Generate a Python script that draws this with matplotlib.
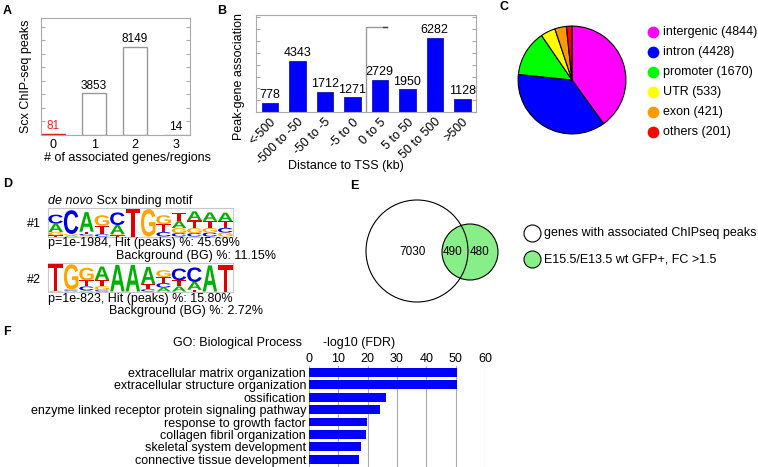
import matplotlib
matplotlib.use("Agg")
import matplotlib.pyplot as plt
from matplotlib.patches import Circle, Rectangle, PathPatch
from matplotlib.textpath import TextPath
from matplotlib.transforms import Affine2D
from matplotlib.font_manager import FontProperties
from matplotlib.ticker import MultipleLocator

plt.rcParams['font.family'] = ['Liberation Sans', 'DejaVu Sans']

# Panel A
n_assoc = ['0', '1', '2', '3']
n_peaks = [81, 3853, 8149, 14]

# Panel B
tss_bins = ['<-500', '-500 to -50', '-50 to -5', '-5 to 0',
            '0 to 5', '5 to 50', '50 to 500', '>500']
tss_counts = [778, 4343, 1712, 1271, 2729, 1950, 6282, 1128]

# Panel C
region_names = ['intergenic', 'intron', 'promoter', 'UTR', 'exon', 'others']
region_counts = [4844, 4428, 1670, 533, 421, 201]
region_colors = ['#ff00ff', '#0000ff', '#00ff00', '#ffff00', '#ff9900', '#ff0000']

# Panel D: motif letter heights (fraction of logo height) per position
motif1 = [
    {'C': .32, 'A': .30, 'G': .12, 'T': .04},
    {'C': .85, 'G': .05, 'A': .04},
    {'A': .70, 'T': .08, 'C': .05, 'G': .04},
    {'G': .38, 'T': .30, 'C': .08},
    {'C': .45, 'A': .32, 'G': .05, 'T': .04},
    {'T': .98},
    {'G': .98},
    {'G': .32, 'T': .28, 'C': .16},
    {'T': .30, 'A': .25, 'G': .18, 'C': .12},
    {'A': .32, 'T': .28, 'G': .18, 'C': .12},
    {'A': .30, 'T': .26, 'G': .16, 'C': .14},
    {'A': .30, 'T': .24, 'C': .17, 'G': .14},
]
motif2 = [
    {'T': .95, 'A': .03},
    {'G': .90, 'C': .04, 'A': .03},
    {'G': .45, 'T': .22, 'C': .14, 'A': .04},
    {'A': .48, 'T': .22, 'G': .14, 'C': .05},
    {'A': .95},
    {'A': .95},
    {'A': .62, 'T': .18, 'C': .08},
    {'G': .24, 'T': .22, 'C': .16, 'A': .14},
    {'C': .42, 'T': .22, 'A': .18},
    {'C': .52, 'A': .28, 'T': .06},
    {'A': .93},
    {'T': .93},
]
motif_hits = ['p=1e-1984, Hit (peaks) %: 45.69%', 'p=1e-823, Hit (peaks) %: 15.80%']
motif_bg = ['Background (BG) %: 11.15%', 'Background (BG) %: 2.72%']
base_colors = {'A': '#00b000', 'C': '#0000e0', 'G': '#ffa500', 'T': '#e00000'}

# Panel E
venn_counts = [7030, 490, 480]
venn_labels = ['genes with associated ChIPseq peaks', 'E15.5/E13.5 wt GFP+, FC >1.5']

# Panel F
go_terms = ['extracellular matrix organization', 'extracellular structure organization',
            'ossification', 'enzyme linked receptor protein signaling pathway',
            'response to growth factor', 'collagen fibril organization',
            'skeletal system development', 'connective tissue development']
go_fdr = [50.6, 50.5, 26.4, 24.2, 19.8, 19.5, 17.6, 17.0]

W, H = 758, 467
fig = plt.figure(figsize=(W / 100, H / 100), dpi=100)


def box(l, t, r, b):
    return [l / W, 1 - b / H, (r - l) / W, (b - t) / H]


# overlay in pixel coordinates for the free-drawn parts
ov = fig.add_axes([0, 0, 1, 1])
ov.set_xlim(0, W)
ov.set_ylim(H, 0)
ov.axis('off')

for lab, x, y in [('A', 3, 11), ('B', 217, 11), ('C', 499, 7),
                  ('D', 3, 184), ('E', 350, 186), ('F', 3, 332)]:
    ov.text(x, y, lab, fontsize=9, fontweight='bold', va='center')

# ---- A
axA = fig.add_axes(box(41, 18, 190, 135))
xa = range(len(n_peaks))
edgesA = ['#d02020', '#999999', '#999999', '#999999']
axA.bar(xa, n_peaks, width=0.6, color='white', edgecolor=edgesA, linewidth=1)
for i, v in enumerate(n_peaks):
    axA.text(i, v + 150, str(v), ha='center', va='bottom', fontsize=8.5,
             color='#ff2020' if i == 0 else 'black')
axA.set_xlim(-0.3, 3.35)
axA.set_ylim(0, 10800)
axA.set_xticks(list(xa))
axA.set_xticklabels(n_assoc, fontsize=9)
axA.yaxis.set_major_locator(MultipleLocator(1250))
axA.tick_params(axis='y', direction='in', left=True, right=True, labelleft=False,
                length=3, color='#aaaaaa')
axA.tick_params(axis='x', length=0, pad=3)
for s in axA.spines.values():
    s.set_color('#aaaaaa')
axA.set_ylabel('Scx ChIP-seq peaks', fontsize=9)
axA.yaxis.set_label_coords(-0.06, 0.5)
axA.set_xlabel('# of associated genes/regions', fontsize=9)
axA.xaxis.set_label_coords(0.58, -0.145)

# ---- B
axB = fig.add_axes(box(256, 15, 476, 112))
xb = range(len(tss_counts))
axB.bar(xb, tss_counts, width=0.6, color='#0000ff', edgecolor='#000099', linewidth=0.5)
for i, v in enumerate(tss_counts):
    axB.text(i, v + 120, str(v), ha='center', va='bottom', fontsize=9)
axB.set_xlim(-0.5, 7.5)
axB.set_ylim(0, 8200)
axB.set_xticks(list(xb))
axB.set_xticklabels(tss_bins, fontsize=9, rotation=45, ha='right', rotation_mode='anchor')
axB.yaxis.set_major_locator(MultipleLocator(1000))
axB.tick_params(axis='y', direction='in', left=True, right=True, labelleft=False,
                length=3, color='#aaaaaa')
axB.tick_params(axis='x', length=0, pad=3)
for s in axB.spines.values():
    s.set_color('#aaaaaa')
tss = 3.5
axB.plot([tss, tss, tss + 0.78], [0, 7200, 7200], color='#999999', lw=1)
axB.plot([tss + 0.6, tss + 0.78], [7200, 7200], color='#444444', lw=1)
axB.set_ylabel('Peak-gene association', fontsize=9)
axB.yaxis.set_label_coords(-0.05, 0.37)
axB.set_xlabel('Distance to TSS (kb)', fontsize=9)
axB.xaxis.set_label_coords(0.407, -0.49)

# ---- C
axC = fig.add_axes(box(517, 25, 627, 135))
axC.pie(region_counts, colors=region_colors, startangle=90, counterclock=False,
        wedgeprops=dict(edgecolor='black', linewidth=0.8))
axC.set_xlim(-1.02, 1.02)
axC.set_ylim(-1.02, 1.02)
for i, (nm, c) in enumerate(zip(region_names, region_colors)):
    y = 32 + 20 * i
    ov.scatter([653], [y], s=55, color=c, zorder=3)
    ov.text(663, y, f'{nm} ({region_counts[i]})', fontsize=9, va='center')

# ---- D
fp = FontProperties(family='Liberation Sans', weight='bold')


def draw_logo(cols, x0, top, x1, bottom):
    ov.add_patch(Rectangle((x0, top), x1 - x0, bottom - top, fill=False,
                           edgecolor='#c8c8c8', lw=0.8))
    cw = (x1 - x0) / len(cols)
    hgt = bottom - top - 1
    for i, col in enumerate(cols):
        yb = bottom - 0.5
        for ch, h in sorted(col.items(), key=lambda kv: kv[1]):
            tp = TextPath((0, 0), ch, size=1, prop=fp)
            bb = tp.get_extents()
            lh = h * hgt
            tr = (Affine2D().translate(-bb.x0, -bb.y0)
                  .scale(cw * 0.94 / bb.width, -lh / bb.height)
                  .translate(x0 + i * cw + cw * 0.03, yb))
            ov.add_patch(PathPatch(tr.transform_path(tp), fc=base_colors[ch], ec='none'))
            yb -= lh


t1 = ov.text(48, 201, 'de novo', fontsize=9, style='italic', va='center')
ov.annotate(' Scx binding motif', xy=(1, 0.5), xycoords=t1, fontsize=9, va='center')
draw_logo(motif1, 48, 208, 233, 237)
draw_logo(motif2, 48, 263, 233, 292)
ov.text(27, 224, '#1', fontsize=9, va='center')
ov.text(27, 280, '#2', fontsize=9, va='center')
ov.text(48, 243, motif_hits[0], fontsize=9, va='center')
ov.text(116, 256, motif_bg[0], fontsize=9, va='center')
ov.text(48, 299, motif_hits[1], fontsize=9, va='center')
ov.text(109, 311, motif_bg[1], fontsize=9, va='center')

# ---- E
ov.add_patch(Circle((470, 252), 28, facecolor='#88ee88', edgecolor='black', lw=0.8))
ov.add_patch(Circle((417, 251), 51, fill=False, edgecolor='black', lw=0.8, zorder=3))
ov.text(413, 252, str(venn_counts[0]), fontsize=8.5, ha='center', va='center')
ov.text(453, 252, str(venn_counts[1]), fontsize=8.5, ha='center', va='center')
ov.text(480, 252, str(venn_counts[2]), fontsize=8.5, ha='center', va='center')
ov.scatter([532], [233], s=150, facecolor='white', edgecolor='black', lw=0.8, zorder=3)
ov.scatter([532], [259], s=150, facecolor='#88ee88', edgecolor='black', lw=0.8, zorder=3)
ov.text(544, 233, venn_labels[0], fontsize=9, va='center')
ov.text(544, 259, venn_labels[1], fontsize=9, va='center')

# ---- F
axF = fig.add_axes(box(309, 366, 485, 467))
yf = range(len(go_fdr))
axF.barh(yf, go_fdr, height=0.72, color='#0000ff', zorder=3)
axF.set_xlim(0, 60)
axF.set_ylim(7.63, -0.52)
axF.set_xticks(range(0, 61, 10))
axF.xaxis.tick_top()
axF.tick_params(axis='x', length=0, pad=1, labelsize=9)
axF.set_yticks(list(yf))
axF.set_yticklabels(go_terms, fontsize=9)
axF.tick_params(axis='y', length=0, pad=2)
axF.grid(axis='x', color='#aaaaaa', lw=0.8)
for s in axF.spines.values():
    s.set_visible(False)
ov.text(173, 343, 'GO: Biological Process', fontsize=9, va='center')
ov.text(323, 343, '-log10 (FDR)', fontsize=9, va='center')

fig.savefig('out.png', dpi=100)
